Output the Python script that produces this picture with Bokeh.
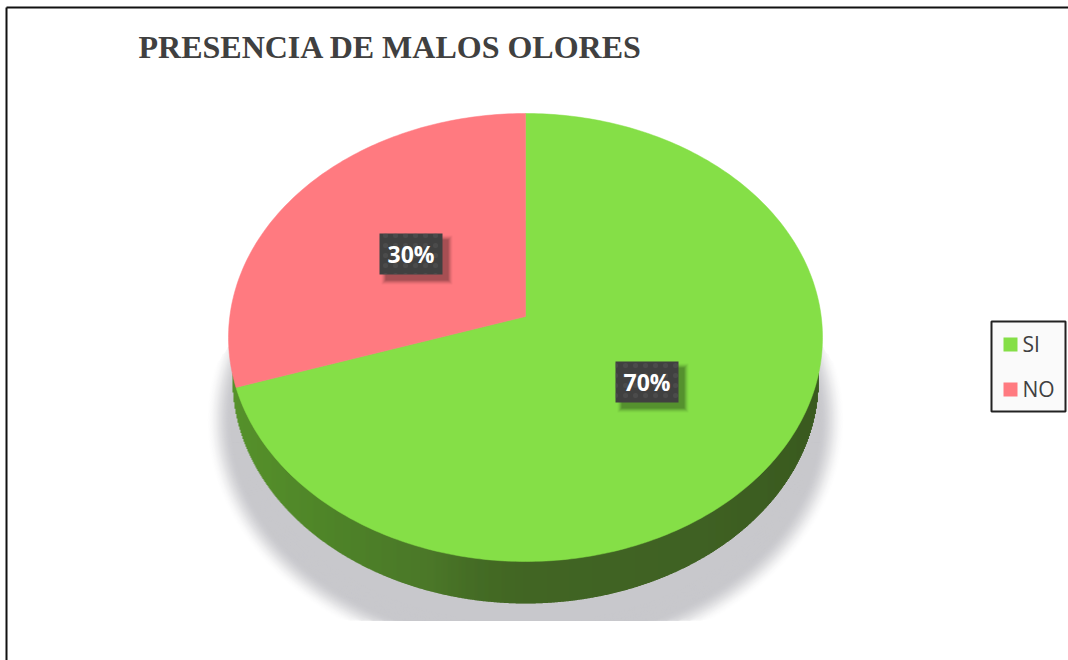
import math
from bokeh.plotting import figure
from bokeh.core.properties import value
from bokeh.embed import file_html
from bokeh.resources import INLINE

title = "PRESENCIA DE MALOS OLORES"
categories = ["SI", "NO"]
values = [70, 30]
colors = ["#85DF47", "#FF7A80"]
labels = ["70%", "30%"]

# layout (page pixels)
W, H = 1068, 660
CX, CY, RX, RY = 525, 337, 297, 224      # top face ellipse
AX, AY = 525, 316                        # apex of the slices (perspective)
SCY, SRX, SRY = 379, 293, 224            # lower rim ellipse
label_centers = [(646.5, 381.5), (410.5, 253.5)]
legend_y = [343, 388]

p = figure(width=W, height=H, x_range=(0, W), y_range=(H, 0),
           x_axis_type=None, y_axis_type=None, toolbar_location=None,
           output_backend="svg", min_border=0, outline_line_color=None,
           background_fill_color="white", border_fill_color="white")
p.grid.visible = False

# outer frame
p.line([6, 6], [7, 660], line_color="#111111", line_width=2)
p.line([6, 1068], [7, 7], line_color="#111111", line_width=2)

# soft floor shadow: nested opaque bands from white to grey
N = 44
shadow = (200, 200, 204)
for i in range(N):
    f = (i + 1) / N
    g = min(1.0, f * 1.7)
    s = g * g * (3 - 2 * g)
    shade = "#%02x%02x%02x" % tuple(round(255 + (c - 255) * s) for c in shadow)
    rx, ry = 320 - 44 * f, 247 - 44 * f
    top = 370 - 150 * f
    xs, ys = [], []
    for k in range(181):
        a = 2 * math.pi * k / 180
        xs.append(525 + rx * math.cos(a))
        ys.append(min(620, max(top, 420 + ry * math.sin(a))))
    p.patch(xs, ys, fill_color=shade, line_color=None)

# side wall, drawn as thin columns
stops = [(232, (80, 142, 34)), (330, (72, 128, 32)), (430, (68, 115, 32)),
         (470, (62, 104, 28)), (525, (58, 96, 26)), (700, (56, 92, 26)), (818, (50, 84, 22))]
def side_color(x):
    for (x0, c0), (x1, c1) in zip(stops, stops[1:]):
        if x <= x1:
            t = (x - x0) / (x1 - x0)
            return "#%02x%02x%02x" % tuple(round(a + (b - a) * t) for a, b in zip(c0, c1))
    return "#%02x%02x%02x" % stops[-1][1]
left, right, top, bottom, col = [], [], [], [], []
for x in range(CX - SRX, CX + SRX):
    d = x + 0.5 - CX
    left.append(x); right.append(x + 1.4)
    top.append(CY + RY * math.sqrt(max(0, 1 - (d / RX) ** 2)) - 3)
    bottom.append(SCY + SRY * math.sqrt(max(0, 1 - (d / SRX) ** 2)))
    col.append(side_color(x))
p.quad(left=left, right=right, top=top, bottom=bottom, fill_color=col, line_color=None)

# top face: slices from the values
K = RY / RX
def rim(theta):
    dx, dy = math.sin(theta), -K * math.cos(theta)
    ox, oy = (AX - CX) / RX, (AY - CY) / RY
    ux, uy = dx / RX, dy / RY
    a = ux * ux + uy * uy
    b = 2 * (ox * ux + oy * uy)
    c = ox * ox + oy * oy - 1
    s = (-b + math.sqrt(b * b - 4 * a * c)) / (2 * a)
    return AX + s * dx, AY + s * dy
total = sum(values)
start = 0.0
for v, c in zip(values, colors):
    end = start + v / total * 2 * math.pi
    n = max(2, int(v * 4))
    pts = [rim(start + (end - start) * k / n) for k in range(n + 1)]
    xs = [AX] + [q[0] for q in pts]
    ys = [AY] + [q[1] for q in pts]
    p.patch(xs, ys, fill_color=c, line_color=c, line_width=0.5)
    start = end

# data labels with soft shadow
BW, BH = 63, 41
for (x, y), t in zip(label_centers, labels):
    for g, a in ((4, 0.04), (3, 0.06), (2, 0.08), (1, 0.1), (0, 0.12)):
        p.quad(left=[x - BW / 2 + 6 - g], right=[x + BW / 2 + 6 + g],
               top=[y - BH / 2 + 6 - g], bottom=[y + BH / 2 + 6 + g],
               fill_color="black", fill_alpha=a, line_color=None)
    p.quad(left=[x - BW / 2], right=[x + BW / 2], top=[y - BH / 2], bottom=[y + BH / 2],
           fill_color="#404040", line_color=None,
           hatch_pattern="dot", hatch_color="#5c5c5c", hatch_scale=10, hatch_alpha=0.4)
    p.text([x], [y], text=[t], text_color="white", text_font=value("Open Sans"),
           text_font_style="bold", text_font_size="23px",
           text_align="center", text_baseline="middle")

# title
p.text([138], [46], text=[title], text_color="#404040", text_font=value("Liberation Serif"),
       text_font_style="bold", text_font_size="32px", text_align="left", text_baseline="middle")

# legend
p.quad(left=[991], right=[1065], top=[321], bottom=[411], fill_color="#FAFAFA",
       line_color="#222222", line_width=2)
for y, c, t in zip([344, 389], colors, categories):
    p.quad(left=[1003], right=[1017], top=[y - 7], bottom=[y + 7], fill_color=c, line_color=None)
for y, t in zip(legend_y, categories):
    p.text([1022], [y], text=[t], text_color="#404040", text_font=value("Open Sans"),
           text_font_size="21px", text_align="left", text_baseline="middle")

open("out.html", "w").write(file_html(p, INLINE))
